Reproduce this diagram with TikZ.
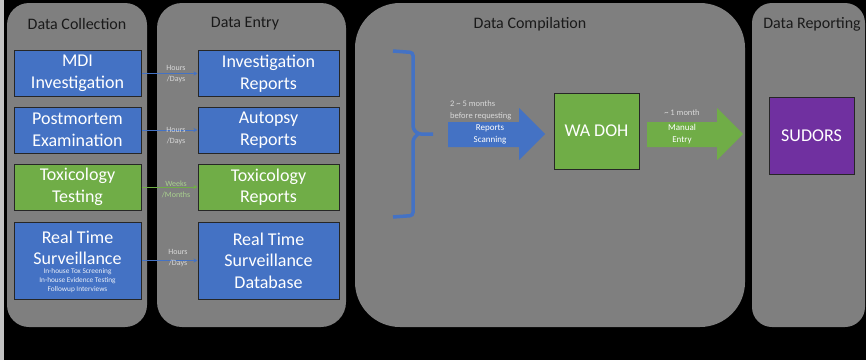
\documentclass[tikz,border=0pt]{standalone}
\usepackage{fontspec}
\setmainfont{Carlito}
\definecolor{panelgray}{HTML}{7F7F7F}
\definecolor{boxblue}{HTML}{4472C4}
\definecolor{boxgreen}{HTML}{70AD47}
\definecolor{boxpurple}{HTML}{7030A0}
\definecolor{lblgray}{HTML}{D9D9D9}
\definecolor{lblgreen}{HTML}{A9D18E}
\definecolor{edgestrip}{HTML}{C3C3C3}
\definecolor{titlecol}{HTML}{1A1A1A}
\usetikzlibrary{arrows.meta}
\tikzset{
  panel/.style={fill=panelgray},
  ptitle/.style={text=titlecol,font=\fontsize{16}{19}\selectfont,inner sep=0pt},
  databox/.style={draw=black!85,line width=1pt,text=white,align=center,inner sep=0pt,
     minimum width=#1,font=\fontsize{18}{21.5}\selectfont},
  databox/.default=127pt,
  conn/.style={draw=#1,line width=0.8pt,-{Stealth[length=4pt,width=4pt]}},
  tlabel/.style={text=#1,align=center,inner sep=0pt,font=\fontsize{8}{11}\selectfont},
  fatarrow/.style={fill=#1},
  arrlbl/.style={text=white,align=center,inner sep=0pt,font=\fontsize{9}{12}\selectfont},
  notelbl/.style={text=lblgray,align=left,inner sep=0pt,font=\fontsize{8.5}{11.5}\selectfont}
}
\begin{document}
\begin{tikzpicture}[x=1pt,y=-1pt]
\useasboundingbox (0,0) rectangle (866,360);
\fill[black] (0,0) rectangle (866,360);
\fill[edgestrip] (0,0) rectangle (4,360);
% panels
\fill[panel,rounded corners=22pt] (7,3) rectangle (147,327);
\fill[panel,rounded corners=25pt] (157,3) rectangle (346,327);
\fill[panel,rounded corners=45pt] (355,3) rectangle (745,327);
\fill[panel,rounded corners=20pt] (752,3) rectangle (865,327);
% titles
\node[ptitle] (t1) at (77,24) {Data Collection};
\node[ptitle] (t2) at (245,24) {Data Entry};
\node[ptitle] (t3) at (530,24) {Data Compilation};
\node[ptitle] (t4) at (812,24) {Data Reporting};
% collection boxes
\node[databox,fill=boxblue,minimum height=46pt] (mdi) at (77.5,73.5) {MDI\\Investigation};
\node[databox,fill=boxblue,minimum height=46pt] (pm) at (77.5,130) {Postmortem\\Examination};
\node[databox,fill=boxgreen,minimum height=46pt] (tox) at (77.5,187) {Toxicology\\Testing};
\node[databox,fill=boxblue,minimum height=77pt] (rts) at (77.5,260.5) {};
\node[text=white,align=center,inner sep=0pt,font=\fontsize{18}{21.5}\selectfont] (rtsT) at (77.5,248) {Real Time\\Surveillance};
\node[text=white!88!boxblue,align=center,inner sep=0pt,font=\fontsize{7.3}{9}\selectfont] (rtsS) at (77.5,281) {In-house Tox Screening\\In-house Evidence Testing\\Followup Interviews};
% entry boxes
\node[databox=141pt,fill=boxblue,minimum height=46pt] (ir) at (268.5,73.5) {Investigation\\Reports};
\node[databox=141pt,fill=boxblue,minimum height=46pt] (ar) at (268.5,130) {Autopsy\\Reports};
\node[databox=141pt,fill=boxgreen,minimum height=46pt] (tr) at (268.5,187) {Toxicology\\Reports};
\node[databox=141pt,fill=boxblue,minimum height=77pt] (rtd) at (268.5,260.5) {Real Time\\Surveillance\\Database};
% connectors
\draw[conn=boxblue] (mdi.east) -- (ir.west);
\draw[conn=boxblue] (pm.east) -- (ar.west);
\draw[conn=boxgreen] (tox.east) -- (tr.west);
\draw[conn=boxblue] (rts.east |- rtd.west) -- (rtd.west);
\node[tlabel=lblgray] (l1) at (176,74.5) {Hours\\/Days};
\node[tlabel=lblgray] (l2) at (176,136) {Hours\\/Days};
\node[tlabel=lblgreen] (l3) at (176,189) {Weeks\\/Months};
\node[tlabel=lblgray] (l4) at (178,258.5) {Hours\\/Days};
% brace
\draw[boxblue,line width=3.5pt,rounded corners=3pt]
  (393,51) -- (413,52.5) -- (413,129) -- (418,134) -- (433,134);
\draw[boxblue,line width=3.5pt,rounded corners=3pt]
  (418,134) -- (413,139) -- (413,215.5) -- (393,217);
% compilation
\fill[fatarrow=boxblue] (448,122) -- (519,122) -- (519,108) -- (545,134) -- (519,160) -- (519,147) -- (448,147) -- cycle;
\node[databox=85pt,fill=boxgreen,minimum height=76pt] (doh) at (596.5,131) {WA DOH};
\fill[fatarrow=boxgreen] (647,122) -- (717,122) -- (717,108) -- (743,134) -- (717,160) -- (717,147) -- (647,147) -- cycle;
\node[databox=85pt,fill=boxpurple,minimum height=77pt] (sud) at (811.5,135.5) {SUDORS};
% arrow texts
\node[notelbl,anchor=west] (n1) at (450,110.5) {2 \textasciitilde{} 5 months\\before requesting};
\node[arrlbl] (n2) at (490,134.5) {Reports\\Scanning};
\node[notelbl,anchor=center,align=center] (n3) at (682,113) {\textasciitilde{} 1 month};
\node[arrlbl] (n4) at (682,134.5) {Manual\\Entry};
\end{tikzpicture}
\end{document}
